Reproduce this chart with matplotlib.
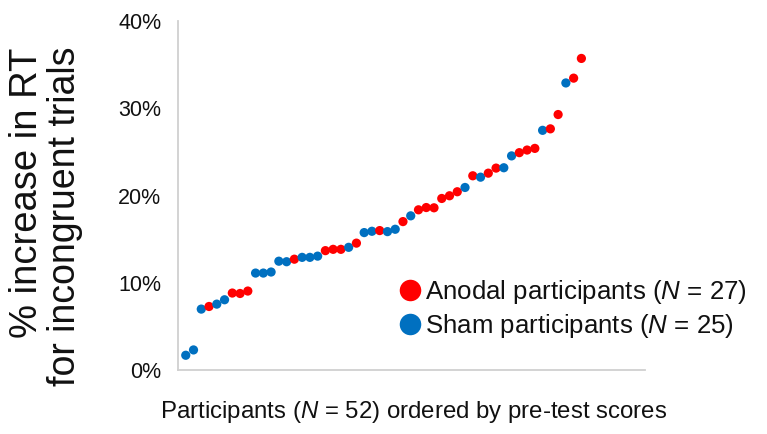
import numpy as np
import matplotlib
matplotlib.use("Agg")
import matplotlib.pyplot as plt
from matplotlib.lines import Line2D

plt.rcParams['font.family'] = ['Liberation Sans', 'DejaVu Sans']
plt.rcParams['mathtext.fontset'] = 'custom'
plt.rcParams['mathtext.it'] = 'Liberation Sans:italic'
plt.rcParams['mathtext.rm'] = 'Liberation Sans'

# % increase in RT, participants ordered by pre-test scores
values = [1.69, 2.30, 6.98, 7.28, 7.55, 8.05, 8.82, 8.77, 9.05, 11.11,
          11.11, 11.23, 12.47, 12.41, 12.70, 12.91, 12.91, 13.05, 13.68, 13.83,
          13.83, 14.06, 14.54, 15.75, 15.90, 15.98, 15.86, 16.13, 17.01, 17.67,
          18.36, 18.62, 18.59, 19.66, 19.97, 20.43, 20.92, 22.26, 22.10, 22.56,
          23.14, 23.18, 24.54, 24.91, 25.21, 25.40, 27.47, 27.64, 29.28, 32.90,
          33.45, 35.71]
# A = anodal, S = sham
groups = ['S', 'S', 'S', 'A', 'S', 'S', 'A', 'A', 'A', 'S',
          'S', 'S', 'S', 'S', 'A', 'S', 'S', 'S', 'A', 'A',
          'A', 'S', 'A', 'S', 'S', 'A', 'S', 'S', 'A', 'S',
          'A', 'A', 'A', 'A', 'A', 'A', 'S', 'A', 'S', 'A',
          'A', 'S', 'S', 'A', 'A', 'A', 'S', 'A', 'A', 'S',
          'A', 'A']
yticks = [0, 10, 20, 30, 40]
ytick_labels = ['0%', '10%', '20%', '30%', '40%']
legend_labels = ['Anodal participants ($N$ = 27)', 'Sham participants ($N$ = 25)']

RED = '#FF0000'
BLUE = '#0070C0'
color_map = {'A': RED, 'S': BLUE}

fig = plt.figure(figsize=(7.67, 4.34), dpi=100)
ax = fig.add_axes([178/767, 64/434, (645-178)/767, (434-64-21)/434])

x = np.arange(1, len(values) + 1)
cols = [color_map[g] for g in groups]
ax.scatter(x, values, s=44, c=cols, linewidths=0, zorder=3)

ax.set_xlim(0, 60.2)
ax.set_ylim(0, 40)
ax.set_yticks(yticks)
ax.set_yticklabels(ytick_labels)
ax.set_xticks([])
ax.tick_params(axis='y', length=0, pad=12, labelsize=15.5, labelcolor='#111111')

for side in ['top', 'right']:
    ax.spines[side].set_visible(False)
for side in ['left', 'bottom']:
    ax.spines[side].set_color('#D0D0D0')
    ax.spines[side].set_linewidth(1.3)

fig.text(27/767, 1 - 192.5/434, '% increase in RT', rotation=90,
         ha='center', va='center', fontsize=27.5, color='#111111')
fig.text(65/767, 1 - 216.5/434, 'for incongruent trials', rotation=90,
         ha='center', va='center', fontsize=27, color='#111111')

fig.text(414/767, 1 - 412/434, 'Participants ($N$ = 52) ordered by pre-test scores',
         ha='center', va='center', fontsize=17.3, color='#111111')

handles = [Line2D([], [], ls='none', marker='o', markersize=15.5, color=RED, markeredgewidth=0),
           Line2D([], [], ls='none', marker='o', markersize=15.5, color=BLUE, markeredgewidth=0)]
fig.legend(handles, legend_labels, loc='center left',
           bbox_to_anchor=(397/767, 1 - 309/434), frameon=False,
           fontsize=18.6, handlelength=1.0, handletextpad=0.1,
           labelspacing=0.22, borderpad=0, borderaxespad=0,
           labelcolor='#111111')

fig.savefig('out.png', dpi=100)
